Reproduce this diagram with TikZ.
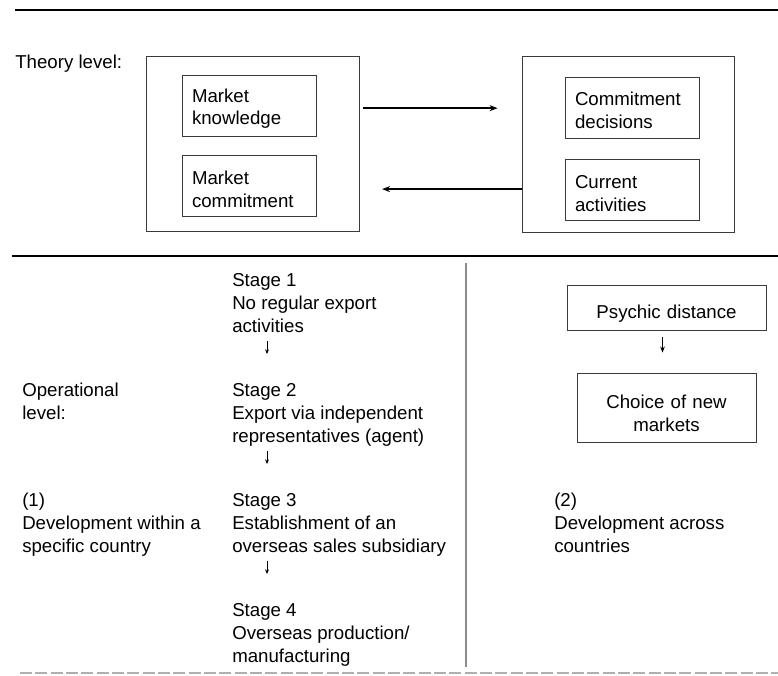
\documentclass[tikz,border=0pt]{standalone}
\usepackage{fontspec}
\setmainfont{Liberation Sans}
\usetikzlibrary{arrows.meta}
\usetikzlibrary{positioning}
\definecolor{inkgrey}{HTML}{3A3A3A}
\definecolor{rulegrey}{HTML}{8C8C8C}

\begin{document}
\begin{tikzpicture}[
    x=0.75pt, y=-0.75pt,
    every node/.style={font=\fontsize{14}{16.9}\selectfont},
    lbl/.style={inner sep=0pt, anchor=base west, align=left},
    concept/.style={rectangle, draw=inkgrey, line width=0.7pt,
      minimum width=100.5pt, minimum height=45.75pt,
      text width=85.5pt, inner xsep=7.5pt, align=left,
      execute at begin node={\rule{0pt}{14.7pt}}},
    levelbox/.style={rectangle, draw=inkgrey, line width=0.6pt, inner sep=0pt},
    market/.style={rectangle, draw=inkgrey, line width=0.7pt,
      inner sep=0pt, text width=126pt, align=center,
      execute at begin node={\rule{0pt}{19pt}}},
    mainrule/.style={line width=1.5pt, draw=black},
    divider/.style={line width=0.8pt, draw=rulegrey},
    tornrule/.style={line width=1.2pt, draw=rulegrey!70, dash pattern=on 9pt off 2.5pt},
    arrow/.style={-{Stealth[length=6pt, width=4.5pt]}, line width=1.4pt},
    downarrow/.style={-{Stealth[length=4.5pt, width=3.5pt]}, line width=1pt},
    tinyarrow/.style={-{Stealth[length=3.5pt, width=3pt]}, line width=0.6pt},
  ]
  \useasboundingbox (0,0) rectangle (778,675);

  % Rules
  \draw[mainrule] (15,10) -- (778,10);
  \draw[mainrule] (12,256) -- (778,256);
  \draw[divider] (466,263) -- (466,667);
  \draw[tornrule] (20,673) -- (778,673);

  % Theory level
  \node[lbl] (theory) at (15,68) {Theory level:};
  \node[levelbox, minimum width=159.75pt, minimum height=131.25pt] (stateside) at (252.5,143.5) {};
  \node[levelbox, minimum width=159pt, minimum height=132pt] (changeside) at (628,144) {};

  \node[concept] (knowledge) at (249,105.5) {Market\\knowledge};
  \node[concept, below=14.25pt of knowledge] (commitment) {Market\\commitment};
  \node[concept] (decisions) at (632,107.5) {Commitment\\decisions};
  \node[concept, below=15.75pt of decisions] (activities) {Current\\activities};

  \draw[arrow, shorten <=3pt, shorten >=18pt] ([yshift=-2pt]stateside.east |- knowledge.east)
    -- ([yshift=-2pt]changeside.west |- knowledge.east);
  \draw[arrow, shorten >=17pt] ([yshift=1pt]changeside.west |- activities.west)
    -- ([yshift=1pt]stateside.east |- activities.west);

  % Operational level (base = last line)
  \node[lbl] (operational) at (22,419) {Operational\\level:};
  \node[lbl] (within) at (22,552) {(1)\\Development within a\\specific country};

  % Stages 1-4
  \node[lbl] (stage1) at (232,332) {Stage 1\\No regular export\\activities};
  \node[lbl] (stage2) at ([yshift=-82.5pt]stage1.base west) {Stage 2\\Export via independent\\representatives (agent)};
  \node[lbl] (stage3) at ([yshift=-82.5pt]stage2.base west) {Stage 3\\Establishment of an\\overseas sales subsidiary};
  \node[lbl] (stage4) at ([yshift=-82.5pt]stage3.base west) {Stage 4\\Overseas production/\\manufacturing};

  \draw[tinyarrow] ([xshift=26.25pt, yshift=-6.5pt]stage1.base west) -- ([xshift=26.25pt, yshift=66pt]stage2.base west);
  \draw[tinyarrow] ([xshift=26.25pt, yshift=-6.5pt]stage2.base west) -- ([xshift=26.25pt, yshift=66pt]stage3.base west);
  \draw[tinyarrow] ([xshift=26.25pt, yshift=-6.5pt]stage3.base west) -- ([xshift=26.25pt, yshift=66pt]stage4.base west);

  % Across countries
  \node[market, minimum width=149.25pt, minimum height=33.75pt] (distance) at (666.5,307.5) {Psychic distance};
  \node[market, minimum width=134.25pt, minimum height=51.75pt] (newmarkets) at (666.5,407.5) {Choice of new\\markets};
  \draw[downarrow, shorten <=5pt, shorten >=15pt] ([xshift=-3pt]distance.south) -- ([xshift=-3pt]newmarkets.north);

  \node[lbl] (across) at (554,552) {(2)\\Development across\\countries};

\end{tikzpicture}
\end{document}
